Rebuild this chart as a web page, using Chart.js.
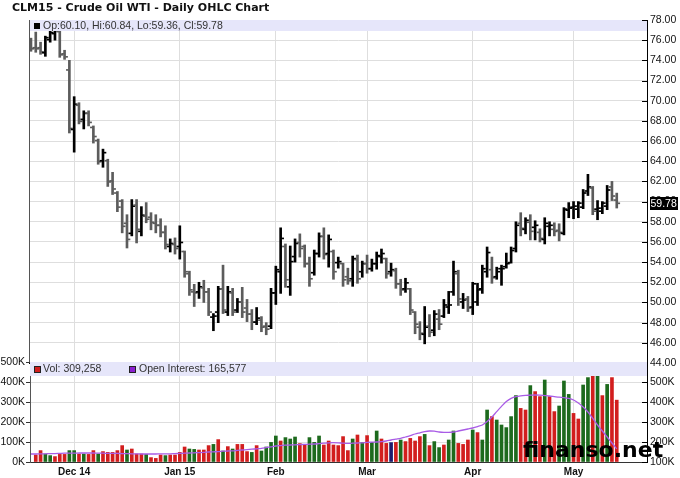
<!DOCTYPE html>
<html><head><meta charset="utf-8">
<script src="https://cdn.jsdelivr.net/npm/chart.js@4.4.1/dist/chart.umd.min.js"></script>
<style>
html,body{margin:0;padding:0;background:#fff;}
#wrap{position:relative;width:680px;height:478px;overflow:hidden;background:#fff;}
#wrap canvas{position:absolute;left:0;top:0;}
#title{position:absolute;left:12px;top:1px;font:bold 11px "DejaVu Sans";color:#111;white-space:nowrap;line-height:normal;}
</style></head><body>
<div id="wrap">
<canvas id="priceC" width="680" height="478"></canvas>
<canvas id="volC" width="680" height="478"></canvas>
<div id="title">CLM15 - Crude Oil WTI - Daily OHLC Chart</div>
</div>
<script>
// ---- data (index = trading day, from 17 Nov 2014 to 14 May 2015) ----
const monthIdx = [9, 31, 51, 70, 92, 113];
const monthLabels = ['Dec 14', 'Jan 15', 'Feb', 'Mar', 'Apr', 'May'];

const opens = [75.9,75.2,75.2,74.7,76.0,76.6,76.8,74.6,73.0,67.1,
69.5,68.1,68.7,67.3,66.0,64.0,64.0,62.0,60.8,60.0,
57.8,56.8,59.6,57.0,58.5,58.4,57.8,57.6,56.9,55.5,
55.7,55.5,55.0,52.8,51.0,51.0,51.4,51.0,48.5,49.0,
51.3,49.0,50.9,49.2,50.0,49.4,48.8,48.0,48.2,47.6,
47.6,50.9,53.0,55.5,51.5,54.5,55.9,55.5,53.8,52.9,
54.8,56.5,54.8,55.0,53.9,53.8,52.5,52.3,54.2,53.0,
53.8,53.3,53.8,54.5,54.3,53.0,53.1,51.8,51.3,51.3,
49.0,47.5,46.8,47.6,47.2,48.3,48.6,49.5,51.0,52.8,
50.0,50.3,49.5,50.0,51.3,53.0,53.2,52.5,53.3,53.5,
53.9,55.3,57.8,57.2,57.9,57.4,56.9,56.2,57.5,57.2,
57.1,56.8,59.1,59.4,59.2,59.4,61.0,61.3,59.2,59.0,
59.5,61.4,60.10];
const highs = [76.2,76.8,75.8,76.4,77.0,77.2,77.0,75.0,74.0,70.4,
69.8,69.0,69.0,67.5,66.2,65.2,64.2,62.9,61.0,60.2,
58.7,60.2,60.2,59.5,59.9,58.9,58.7,58.3,57.6,56.3,
56.4,57.6,55.1,53.1,51.8,52.0,52.2,51.4,48.9,51.6,
53.7,51.6,51.4,50.4,51.5,50.3,49.3,49.5,48.6,48.0,
51.4,53.6,57.4,55.8,55.6,56.3,56.8,55.7,54.5,55.2,
56.9,57.4,56.7,55.2,54.5,53.9,53.4,54.6,54.7,54.1,
54.7,54.3,55.0,55.3,54.4,53.9,53.4,52.3,52.4,51.4,
49.1,48.1,49.6,48.8,49.2,49.3,50.3,51.1,54.1,53.2,
50.9,50.6,52.0,51.9,53.7,55.5,54.5,53.5,53.7,54.9,
55.5,58.0,58.9,58.4,58.7,58.1,57.3,58.4,58.0,57.9,
57.8,59.4,59.9,60.0,60.0,61.2,62.7,61.5,60.1,60.0,
61.6,62.0,60.84];
const lows = [74.9,74.8,74.6,74.4,75.8,76.0,74.3,74.1,66.8,64.9,
67.7,67.2,67.5,65.8,63.7,63.4,61.5,60.7,59.0,56.9,
55.4,56.6,55.9,56.6,57.9,57.2,56.9,56.5,55.3,55.0,
54.8,54.3,52.5,50.7,49.6,50.4,50.0,48.7,47.2,48.0,
48.9,48.7,48.7,49.0,48.5,48.1,47.3,47.8,47.1,46.8,
47.4,49.8,50.9,51.5,50.7,54.0,54.5,53.5,51.6,52.7,
54.5,54.3,53.5,52.3,53.4,51.6,51.8,51.6,51.9,52.5,
52.9,53.1,53.3,53.9,52.4,52.6,51.4,50.7,51.0,48.8,
46.9,46.3,45.9,46.6,46.7,47.3,48.5,48.9,50.7,49.7,
49.4,49.1,48.8,49.7,50.9,52.5,51.9,52.3,51.7,53.4,
53.9,55.0,56.6,56.8,56.2,56.2,56.0,55.8,56.6,56.6,
56.1,56.7,58.4,58.3,58.4,59.3,60.6,58.7,58.2,58.8,
59.2,60.1,59.36];
const closes = [75.1,75.1,74.8,76.2,76.7,76.9,74.5,74.3,67.2,69.6,
67.9,68.7,67.8,66.4,63.9,64.8,61.9,61.2,59.4,57.5,
56.2,59.5,57.2,58.6,58.2,57.9,57.6,56.9,55.7,55.8,
55.3,55.9,53.0,51.2,50.9,51.5,51.0,49.0,48.6,51.3,
49.2,51.0,49.0,50.0,49.0,48.8,48.0,48.4,47.5,47.3,
50.9,53.2,56.3,52.2,54.0,55.8,55.3,53.8,52.3,54.8,
56.5,54.7,56.2,53.0,54.0,52.2,52.1,54.3,52.3,53.8,
53.3,53.8,54.6,54.8,52.8,53.2,51.8,51.2,51.9,49.2,
47.8,46.9,47.5,47.0,48.8,47.8,49.7,49.7,53.0,50.3,
50.2,49.4,51.8,51.2,53.3,54.9,52.4,53.0,53.3,53.8,
55.1,57.6,57.3,58.1,57.0,57.6,56.3,57.8,57.6,57.0,
56.9,59.2,59.3,59.5,59.8,60.8,61.4,59.0,59.3,59.8,
61.1,60.5,59.78];

// volume (thousands of contracts) and its up/down flag
const vol = [null,35,57,40,32,27,38,38,57,57,
40,40,38,57,40,52,48,48,57,82,
60,65,40,40,38,22,18,35,32,35,
35,48,75,65,63,60,60,82,88,112,
55,77,65,88,88,52,48,82,55,75,
98,130,105,122,115,125,92,85,122,98,
130,85,105,85,82,127,57,115,135,97,
132,98,155,115,93,97,98,110,102,118,
105,127,138,82,102,72,85,110,155,93,
88,110,160,147,110,260,227,210,185,172,
227,332,268,260,382,352,327,410,327,252,
280,405,338,243,215,385,422,440,440,332,
388,422,309.258];
const volDir = ['d','d','d','u','u','d','d','d','u','u',
'd','u','d','d','u','d','d','d','d','d',
'u','d','d','d','u','d','d','d','u','d',
'd','d','d','u','u','d','d','d','u','d',
'u','d','u','d','d','d','u','d','u','u',
'u','u','d','u','u','u','d','d','u','u',
'u','d','d','d','d','d','d','u','d','u',
'd','u','u','d','d','n','d','u','d','d',
'd','d','u','d','u','u','d','u','u','d',
'd','d','u','d','u','u','d','u','u','u',
'u','u','d','d','u','d','d','u','d','d',
'u','u','u','d','d','u','u','d','u','d',
'u','d','d'];
// open interest (thousands)
const oi = [140,140,141,141,142,142,143,144,144,144,
145,145,145,145,144,144,143,143,143,142,
142,141,141,140,140,140,140,141,141,141,
142,143,144,145,146,147,148,150,151,152,
154,155,156,158,160,162,164,166,168,172,
176,180,182,184,185,186,187,188,189,190,
192,194,196,197,196,194,193,194,195,196,
198,199,200,202,205,210,214,218,225,232,
240,246,252,255,254,250,248,248,250,255,
260,265,270,277,285,302,325,352,378,402,
418,427,431,433,434,435,434,432,430,427,
424,422,418,410,395,375,350,318,285,255,
225,195,165.577];

// ---- build ----
const N = closes.length;
const idx = closes.map((_, i) => i);
const XMIN = -0.2, XMAX = 128.3;
const barCol = idx.map(i => closes[i] >= opens[i] ? '#000000' : '#5c5c5c');
const dirColors = {u: '#1d6a1d', d: '#d21e1e', n: '#1c1c6e'};
const volCol = volDir.map(d => dirColors[d]);
const GRID = '#dedede';
const BAND = 'rgb(230,230,250)';
const fmt = n => Math.round(n * 1000).toLocaleString('en-US');
function monthTicks(s) { s.ticks = monthIdx.map(v => ({value: v})); }

const priceDeco = {
  id: 'priceDeco',
  afterDatasetsDraw(chart) {
    const {ctx, chartArea: a, scales: {y}} = chart;
    ctx.save();
    ctx.fillStyle = BAND;
    ctx.fillRect(a.left, a.top, a.right - a.left, 11);
    ctx.fillStyle = '#000';
    ctx.fillRect(a.left + 4, a.top + 3, 6, 6);
    ctx.fillStyle = '#333';
    ctx.font = '10.5px "Liberation Sans"';
    ctx.textBaseline = 'middle';
    ctx.textAlign = 'left';
    ctx.fillText('Op:' + opens[N-1].toFixed(2) + ', Hi:' + highs[N-1].toFixed(2) +
      ', Lo:' + lows[N-1].toFixed(2) + ', Cl:' + closes[N-1].toFixed(2), a.left + 13, a.top + 6);
    // frame
    ctx.fillStyle = '#555';
    ctx.fillRect(a.left - 1, a.top, 1, a.bottom - a.top);
    ctx.fillStyle = '#000';
    ctx.fillRect(a.left - 1, a.bottom - 1, a.right - a.left + 1, 2);
    // inner tick marks
    y.ticks.forEach(t => {
      const py = Math.round(y.getPixelForValue(t.value));
      ctx.fillRect(a.right - 5, py, 5, 1);
    });
    // last price marker
    const last = closes[N-1];
    const py = y.getPixelForValue(last);
    ctx.fillStyle = '#000';
    ctx.fillRect(a.right + 3, Math.round(py - 6.5), 28, 13);
    ctx.fillStyle = '#fff';
    ctx.font = '10.5px "Liberation Sans"';
    ctx.fillText(last.toFixed(2), a.right + 3.5, py + 0.5);
    ctx.restore();
  }
};

new Chart(document.getElementById('priceC'), {
  type: 'bar',
  data: {
    datasets: [
      {label: 'Open', data: idx.map(i => ({x: i, y: [opens[i], opens[i]]})), backgroundColor: barCol, barThickness: 2, minBarLength: 1},
      {label: 'High-Low', data: idx.map(i => ({x: i, y: [lows[i], highs[i]]})), backgroundColor: barCol, barThickness: 2},
      {label: 'Close', data: idx.map(i => ({x: i, y: [closes[i], closes[i]]})), backgroundColor: barCol, barThickness: 2, minBarLength: 1}
    ]
  },
  options: {
    responsive: false, animation: false, devicePixelRatio: 1,
    layout: {padding: {left: 30, top: 20, right: 0, bottom: 115}},
    plugins: {legend: {display: false}, tooltip: {enabled: false}, title: {display: false}},
    scales: {
      x: {type: 'linear', min: XMIN, max: XMAX, offset: false,
          afterBuildTicks: monthTicks, afterFit: s => { s.height = 0; },
          ticks: {display: false, autoSkip: false},
          grid: {color: GRID, offset: false, drawTicks: false},
          border: {display: false}},
      y: {position: 'right', min: 44, max: 78,
          afterFit: s => { s.width = 33; },
          ticks: {stepSize: 2, autoSkip: false, callback: v => v.toFixed(2), padding: 3, color: '#111',
                  font: {family: 'Liberation Sans', size: 10.5}},
          grid: {color: GRID, drawTicks: false},
          border: {color: '#000', width: 1}}
    }
  },
  plugins: [priceDeco]
});

const volDeco = {
  id: 'volDeco',
  afterDatasetsDraw(chart) {
    const {ctx, chartArea: a, scales} = chart;
    const o = scales.oi;
    ctx.save();
    ctx.fillStyle = BAND;
    ctx.fillRect(a.left, a.top, a.right - a.left, 14);
    ctx.strokeStyle = '#222';
    ctx.lineWidth = 1;
    ctx.fillStyle = '#d21e1e';
    ctx.fillRect(a.left + 4, a.top + 4, 6, 6);
    ctx.strokeRect(a.left + 4.5, a.top + 4.5, 6, 6);
    ctx.fillStyle = '#8a1fd0';
    ctx.fillRect(a.left + 99, a.top + 4, 6, 6);
    ctx.strokeRect(a.left + 99.5, a.top + 4.5, 6, 6);
    ctx.fillStyle = '#333';
    ctx.font = '10.5px "Liberation Sans"';
    ctx.textBaseline = 'middle';
    ctx.textAlign = 'left';
    ctx.fillText('Vol: ' + fmt(vol[N-1]), a.left + 13, a.top + 7.5);
    ctx.fillText('Open Interest: ' + fmt(oi[N-1]), a.left + 109, a.top + 7.5);
    ctx.fillStyle = '#000';
    o.ticks.forEach(t => {
      if (t.value >= o.max) return;
      const py = Math.round(o.getPixelForValue(t.value));
      ctx.fillRect(a.right - 5, py, 5, 1);
    });
    ctx.fillStyle = '#000';
    ctx.font = 'bold 22px "DejaVu Sans"';
    ctx.textBaseline = 'alphabetic';
    ctx.fillText('finanso.net', 523, 457);
    ctx.restore();
  }
};

new Chart(document.getElementById('volC'), {
  type: 'bar',
  data: {
    datasets: [
      {type: 'line', label: 'Open Interest', data: idx.map(i => ({x: i, y: oi[i]})), yAxisID: 'oi',
       borderColor: '#a95ce6', borderWidth: 1.3, pointRadius: 0, tension: 0.3, fill: false},
      {label: 'Vol', data: idx.map(i => ({x: i, y: vol[i]})), yAxisID: 'vol',
       backgroundColor: volCol, barThickness: 3}
    ]
  },
  options: {
    responsive: false, animation: false, devicePixelRatio: 1,
    layout: {padding: {left: 0, top: 362, right: 0, bottom: 0}},
    plugins: {legend: {display: false}, tooltip: {enabled: false}, title: {display: false}},
    scales: {
      x: {type: 'linear', min: XMIN, max: XMAX, offset: false,
          afterBuildTicks: monthTicks, afterFit: s => { s.height = 16; },
          ticks: {autoSkip: false, maxRotation: 0, padding: 4, color: '#111',
                  font: {family: 'Liberation Sans', size: 10, weight: 'bold'},
                  callback: v => monthLabels[monthIdx.indexOf(v)]},
          grid: {color: GRID, offset: false, drawTicks: false},
          border: {color: '#333', width: 1}},
      vol: {position: 'left', min: 0, max: 500,
          afterFit: s => { s.width = 30; },
          ticks: {stepSize: 100, autoSkip: false, padding: 1, color: '#111',
                  font: {family: 'Liberation Sans', size: 10.5}, callback: v => v + 'K'},
          grid: {color: GRID, tickColor: '#333', tickLength: 4},
          border: {color: '#555', width: 1}},
      oi: {position: 'right', min: 100, max: 600,
          afterFit: s => { s.width = 33; },
          ticks: {stepSize: 100, autoSkip: false, padding: 3, color: '#111',
                  font: {family: 'Liberation Sans', size: 10.5},
                  callback: v => v >= 600 ? '' : v + 'K'},
          grid: {drawOnChartArea: false, drawTicks: false},
          border: {color: '#000', width: 1}}
    }
  },
  plugins: [volDeco]
});
</script>
</body></html>
